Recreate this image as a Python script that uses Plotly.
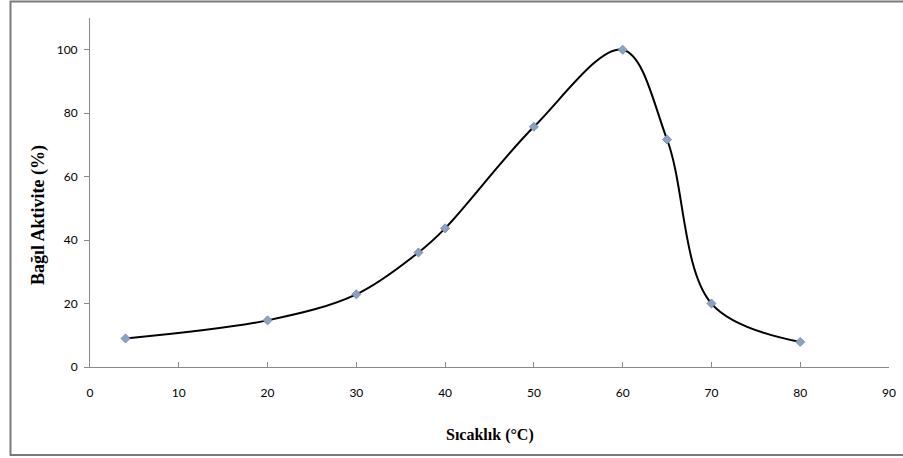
import plotly.graph_objects as go

# Relative enzyme activity versus temperature
temperature_c = [4, 20, 30, 37, 40, 50, 60, 65, 70, 80]
relative_activity = [9.0, 14.7, 22.9, 36.1, 43.7, 75.7, 100.0, 71.7, 20.0, 7.9]

x_ticks = [0, 10, 20, 30, 40, 50, 60, 70, 80, 90]
y_ticks = [0, 20, 40, 60, 80, 100]

W, H = 903, 458
ML, MR, MT, MB = 90, 14, 18, 91

fig = go.Figure()

# smoothed black curve
fig.add_trace(go.Scatter(
    x=temperature_c, y=relative_activity,
    mode="lines",
    line=dict(color="#000000", width=2, shape="spline", smoothing=1.0),
    hoverinfo="skip", showlegend=False,
))
# diamond markers on top
fig.add_trace(go.Scatter(
    x=temperature_c, y=relative_activity,
    mode="markers",
    marker=dict(symbol="diamond", size=7, color="#8DA2C2",
                line=dict(color="#6F88AE", width=0.8)),
    showlegend=False,
))

tick_font = dict(family="Lato, Open Sans, sans-serif", size=12, color="#000000")

fig.update_layout(
    width=W, height=H,
    margin=dict(l=ML, r=MR, t=MT, b=MB, autoexpand=False),
    paper_bgcolor="white", plot_bgcolor="white",
    xaxis=dict(
        range=[0, 90], tickvals=x_ticks, ticktext=[str(v) for v in x_ticks],
        showgrid=False, zeroline=False, automargin=False,
        ticklabeloverflow="allow",
        showline=True, linecolor="#8A8A8A", linewidth=1,
        ticks="inside", ticklen=5, tickcolor="#8A8A8A",
        tickfont=tick_font, ticklabelstandoff=15,
    ),
    yaxis=dict(
        range=[0, 110], tickvals=y_ticks, ticktext=[str(v) for v in y_ticks],
        showgrid=False, zeroline=False, automargin=False,
        showline=True, linecolor="#8A8A8A", linewidth=1,
        ticks="outside", ticklen=5, tickcolor="#8A8A8A",
        tickfont=tick_font, ticklabelstandoff=4,
    ),
)

plot_w = W - ML - MR
plot_h = H - MT - MB


def px_to_paper_x(px):
    return (px - ML) / plot_w


def px_to_paper_y(py):
    return (H - MB - py) / plot_h


# outer chart frame (left, top and bottom edges visible)
fig.add_shape(type="rect", xref="paper", yref="paper",
              x0=px_to_paper_x(10.5), x1=px_to_paper_x(915),
              y0=px_to_paper_y(455), y1=px_to_paper_y(1.5),
              line=dict(color="#7A7A7A", width=2), layer="below")

fig.add_annotation(text="<b>Sıcaklık (°C)</b>", xref="paper", yref="paper",
                   x=px_to_paper_x(490), y=px_to_paper_y(435),
                   showarrow=False,
                   font=dict(family="Liberation Serif, Times New Roman, serif",
                             size=16, color="#000000"),
                   xanchor="center", yanchor="middle")
fig.add_annotation(text="<b>Bağıl Aktivite (%)</b>", xref="paper", yref="paper",
                   x=px_to_paper_x(38), y=px_to_paper_y(215),
                   showarrow=False,
                   font=dict(family="Liberation Serif, Times New Roman, serif",
                             size=18, color="#000000"),
                   textangle=-90, xanchor="center", yanchor="middle")

fig.write_html("out.html")
